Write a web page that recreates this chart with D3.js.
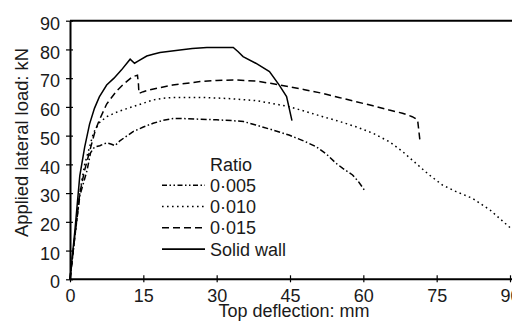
<!DOCTYPE html>
<html><head><meta charset="utf-8">
<script src="https://cdn.jsdelivr.net/npm/d3@7"></script>
<style>
html,body{margin:0;padding:0;background:#fff;}
svg{display:block;}
text{font-family:"Liberation Sans",Arial,sans-serif;fill:#1a1a1a;}
</style></head><body>
<script>
const xTicks = [0,15,30,45,60,75,90];
const yTicks = [0,10,20,30,40,50,60,70,80,90];
const xTitle = "Top deflection: mm";
const yTitle = "Applied lateral load: kN";
const legendTitle = "Ratio";
const seriesNames = ["0·005","0·010","0·015","Solid wall"];

const s005 = [[0,0],[1,15],[2,29],[2.5,32],[3.5,38],[4.2,44],[5,46],[6.1,46.5],[7.5,47.5],[8.5,47],[9.2,46.5],[10.2,48.2],[12.9,51.4],[15,53],[17,54.3],[19,55.3],[21.1,56],[24,55.9],[26.6,55.7],[30,55.5],[33.4,55.2],[35.5,54.9],[38,53.7],[41,52.2],[44.8,50.2],[48,48],[50.3,46.2],[52.5,43.5],[54.4,40.4],[55.8,38.6],[57.8,36.3],[59,34],[60.2,31.1]];
const s010 = [[0,0],[1,15],[2,30],[3,40],[4,46],[4.8,51],[6,54.5],[7.5,56.6],[10,58.5],[12.9,60.1],[15,61.3],[17,62.4],[19,63],[21.1,63.3],[26.6,63.3],[30,63.1],[33.4,62.8],[38,62.2],[41,61.3],[44.8,60.1],[48,58.5],[51.7,56.6],[55,55],[58.5,53.1],[62,50.8],[65.3,47.9],[68,44.5],[70.8,40.3],[73.5,36.3],[76.2,32.8],[79,30.5],[82.3,28.2],[86,24],[90,18]];
const s015 = [[0,0],[1,15],[2,30],[3,38],[4.4,47],[5.2,52],[6,55.4],[7.5,61],[9.5,65.5],[11,68],[12.8,70.5],[13.8,71],[14,68],[14.1,64.7],[15,65.3],[16.4,66],[21,67.6],[26.6,68.8],[30,69.2],[33.4,69.4],[38,69],[41,68.2],[44.8,67],[48,66],[51.7,64.7],[55,63.3],[58.5,61.8],[62,60.4],[65.3,58.9],[68,57.8],[70,56.6],[71.1,55.5],[71.4,51],[71.6,47.9]];
const sSolid = [[0,0],[1,17],[2,36],[3,46],[4,54],[5,59.5],[6,63.5],[7.5,67.6],[9,70],[10.5,72.8],[12.3,76.6],[13.2,75.2],[14,76],[15.7,77.7],[17,78.3],[18.4,78.9],[22.5,79.8],[25,80.3],[28,80.7],[33.4,80.7],[34.4,79.2],[35.4,77.5],[38,75.2],[40.8,72.3],[42.8,67.6],[44.3,63.6],[45.4,55.2]];

const allSeries = [s005, s010, s015, sSolid];
const dashes = ["6,2.5,1.5,2.5", "1.6,3.4", "7,4", null];

const W = 512, H = 329;
const svg = d3.select("body").append("svg").attr("width", W).attr("height", H);
const x = d3.scaleLinear().domain([0,90]).range([70,510]);
const y = d3.scaleLinear().domain([0,90]).range([279.3,20.7]);

// top border
svg.append("line").attr("x1",70).attr("x2",512).attr("y1",y(90)).attr("y2",y(90))
  .attr("stroke","#000").attr("stroke-width",2);

// x axis
const gx = svg.append("g").attr("transform",`translate(0,${y(0)})`)
  .call(d3.axisBottom(x).tickValues(xTicks).tickSizeInner(4).tickSizeOuter(0).tickPadding(6));
gx.select(".domain").attr("d",`M70,0H512`).attr("stroke-width",2);
gx.selectAll(".tick line").attr("y1",-4).attr("y2",3).attr("stroke-width",1.2);
gx.selectAll(".tick text").attr("font-size",18).attr("dy","0.71em").attr("y",9.5)
  .style("font-family","Liberation Sans, Arial, sans-serif").attr("fill","#1a1a1a");

// y axis
const gy = svg.append("g").attr("transform",`translate(70,0)`)
  .call(d3.axisLeft(y).tickValues(yTicks).tickSizeInner(4).tickSizeOuter(0).tickPadding(6));
gy.select(".domain").attr("stroke-width",2);
gy.selectAll(".tick line").attr("x1",-4).attr("x2",3).attr("stroke-width",1.2);
gy.selectAll(".tick text").attr("font-size",18).attr("dy","0.48em").attr("x",-10)
  .style("font-family","Liberation Sans, Arial, sans-serif").attr("fill","#1a1a1a");

// titles
svg.append("text").attr("x",294).attr("y",317).attr("text-anchor","middle")
  .attr("font-size",18).text(xTitle);
svg.append("text").attr("transform","translate(28,142.5) rotate(-90)")
  .attr("text-anchor","middle").attr("font-size",18.4).text(yTitle);

// series
const line = d3.line().x(d=>x(d[0])).y(d=>y(d[1])).curve(d3.curveLinear);
allSeries.forEach((s,i)=>{
  svg.append("path").datum(s).attr("d",line).attr("fill","none")
    .attr("stroke","#000").attr("stroke-width",1.5)
    .attr("stroke-dasharray",dashes[i]);
});

// legend
svg.append("text").attr("x",210).attr("y",170.7).attr("font-size",18).text(legendTitle);
const legDashes = ["5,2.5,1.5,2.5,1.5,2.5", "1.6,3.4", "7,4", null];
seriesNames.forEach((n,i)=>{
  const by = 191.7 + i*21.3;
  svg.append("line").attr("x1",162).attr("x2",205).attr("y1",by-6.5).attr("y2",by-6.5)
    .attr("stroke","#000").attr("stroke-width",1.6).attr("stroke-dasharray",legDashes[i]);
  svg.append("text").attr("x",210).attr("y",by).attr("font-size",18).text(n);
});
</script>
</body></html>
